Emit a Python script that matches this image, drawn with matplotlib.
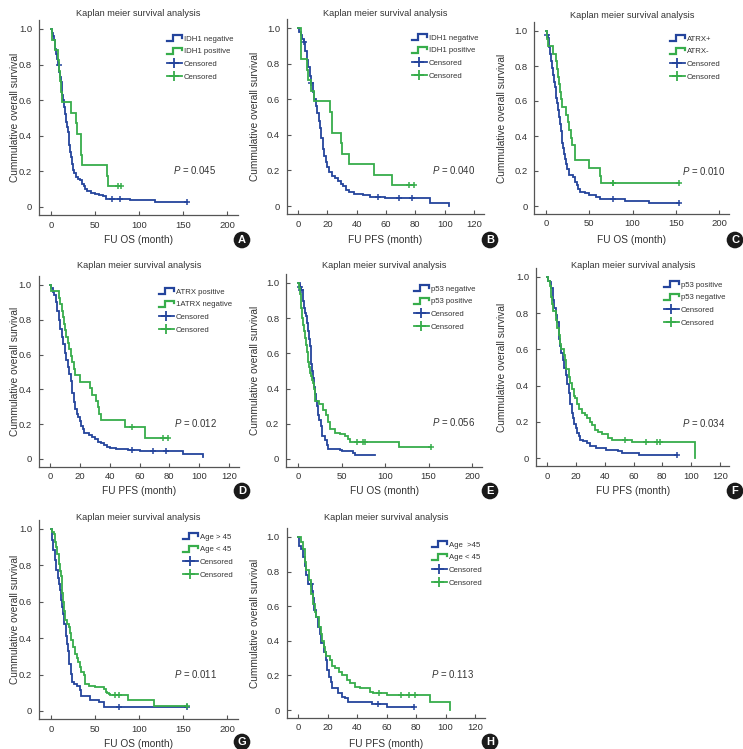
import numpy as np
import matplotlib
matplotlib.use("Agg")
import matplotlib.pyplot as plt
from matplotlib.lines import Line2D
from matplotlib.legend_handler import HandlerBase

FONT = ['Liberation Sans', 'DejaVu Sans']
plt.rcParams['font.family'] = FONT
plt.rcParams['mathtext.fontset'] = 'custom'
plt.rcParams['mathtext.rm'] = 'Liberation Sans'
plt.rcParams['mathtext.it'] = 'Liberation Sans:italic'

BLUE = '#24449c'
GREEN = '#37ad4b'

# ---------------- data ----------------
title = "Kaplan meier survival analysis"
ylabel = "Cummulative overall survival"
ytick_vals = [0, 0.2, 0.4, 0.6, 0.8, 1.0]
ytick_labels = ["0", "0.2", "0.4", "0.6", "0.8", "1.0"]
os_ticks = [0, 50, 100, 150, 200]
pfs_ticks = [0, 20, 40, 60, 80, 100, 120]
letters = ["A", "B", "C", "D", "E", "F", "G", "H"]
xlabels = ["FU OS (month)", "FU PFS (month)", "FU OS (month)", "FU PFS (month)",
           "FU OS (month)", "FU PFS (month)", "FU OS (month)", "FU PFS (month)"]
pvalues = ["0.045", "0.040", "0.010", "0.012", "0.056", "0.034", "0.011", "0.113"]
labels_blue = ["IDH1 negative", "IDH1 negative", "ATRX+", "ATRX positive",
               "p53 negative", "p53 positive", "Age > 45", "Age  >45"]
labels_green = ["IDH1 positive", "IDH1 positive", "ATRX-", "1ATRX negative",
                "p53 positive", "p53 negative", "Age < 45", "Age < 45"]
censor_label = "Censored"

# Panel A (OS, IDH1)
a_blue_t = [1, 2, 3, 4, 5, 6, 7, 8, 9, 10, 11, 12, 13, 14, 15, 16, 17, 18, 19, 20, 21, 22, 23, 24, 25, 26,
            28, 31, 33, 35, 37, 39, 41, 45, 50, 55, 59, 62, 90, 118]
a_blue_s = [0.98, 0.96, 0.94, 0.91, 0.89, 0.86, 0.83, 0.80, 0.76, 0.73, 0.70, 0.67, 0.63, 0.60, 0.56, 0.52,
            0.48, 0.45, 0.42, 0.39, 0.35, 0.31, 0.28, 0.24, 0.21, 0.19, 0.17, 0.16, 0.15, 0.13, 0.12, 0.10,
            0.09, 0.08, 0.075, 0.07, 0.06, 0.047, 0.039, 0.028]
a_blue_c = [8.7, 69, 78, 154]
a_green_t = [1, 5, 8, 9, 10, 11, 12, 23, 28.5, 29, 34, 34.5, 35, 64, 65]
a_green_s = [0.941, 0.882, 0.824, 0.765, 0.706, 0.647, 0.588, 0.529, 0.471, 0.412, 0.353, 0.294, 0.235,
             0.176, 0.118]
a_green_c = [76, 79]

# Panel B (PFS, IDH1)
b_blue_t = [1, 2, 3, 4, 5, 6, 7, 8, 9, 10, 11, 12, 13, 14, 15, 16, 17, 18, 19, 20, 21, 23, 25, 27, 29, 31,
            33, 35, 38, 44, 49, 59, 90, 103]
b_blue_s = [0.98, 0.96, 0.94, 0.92, 0.87, 0.82, 0.78, 0.73, 0.69, 0.64, 0.60, 0.56, 0.52, 0.48, 0.44, 0.38,
            0.32, 0.28, 0.25, 0.22, 0.19, 0.17, 0.155, 0.14, 0.125, 0.11, 0.09, 0.08, 0.068, 0.062, 0.052,
            0.043, 0.019, 0.0]
b_blue_c = [4, 9, 54.5, 69, 78]
b_green_t = [2, 6, 7, 9, 11, 22, 23, 23.5, 29, 30, 35, 52, 64]
b_green_s = [0.824, 0.765, 0.706, 0.647, 0.588, 0.529, 0.471, 0.412, 0.353, 0.294, 0.235, 0.176, 0.118]
b_green_c = [76, 79]

# Panel C (OS, ATRX)
c_blue_t = [1, 2, 3, 4, 5, 6, 7, 8, 9, 10, 11, 12, 13, 14, 15, 16, 17, 18, 19, 20, 21, 22, 23, 24, 27, 31,
            34, 36, 37, 39, 45, 50, 58, 62, 91, 119]
c_blue_s = [0.98, 0.96, 0.94, 0.91, 0.87, 0.83, 0.79, 0.75, 0.71, 0.68, 0.65, 0.62, 0.59, 0.55, 0.51, 0.47,
            0.43, 0.40, 0.36, 0.33, 0.30, 0.27, 0.24, 0.21, 0.18, 0.165, 0.14, 0.12, 0.10, 0.08, 0.072,
            0.063, 0.05, 0.04, 0.03, 0.015]
c_blue_c = [1.5, 77, 154]
c_green_t = [1, 2, 8, 12, 13, 14, 15, 16, 17, 19, 23, 26, 26.5, 29, 30, 33, 34, 50, 62, 64]
c_green_s = [0.957, 0.913, 0.87, 0.826, 0.783, 0.739, 0.696, 0.652, 0.609, 0.565, 0.522, 0.478, 0.435,
             0.391, 0.348, 0.304, 0.261, 0.217, 0.174, 0.13]
c_green_c = [77, 78, 154]

# Panel D (PFS, ATRX)
d_blue_t = [1, 2, 3, 4, 5, 6, 7, 8, 9, 10, 11, 12, 13, 14, 15, 16, 17, 18, 19, 20, 21, 22, 23, 26, 28, 30,
            32, 34, 36, 38, 40, 44, 52, 60, 89, 102.7]
d_blue_s = [0.98, 0.96, 0.94, 0.90, 0.85, 0.80, 0.75, 0.70, 0.66, 0.61, 0.57, 0.53, 0.49, 0.45, 0.38, 0.33,
            0.29, 0.26, 0.24, 0.22, 0.19, 0.17, 0.15, 0.14, 0.125, 0.115, 0.10, 0.09, 0.08, 0.07, 0.065,
            0.06, 0.052, 0.044, 0.03, 0.01]
d_blue_c = [55, 69, 78]
d_green_t = [1, 6, 7, 8, 9, 9.5, 10, 11, 12, 13, 14, 15, 16, 17, 20, 27, 28, 31, 32, 33, 34, 50, 64]
d_green_s = [0.963, 0.926, 0.889, 0.852, 0.815, 0.778, 0.741, 0.704, 0.667, 0.630, 0.593, 0.556, 0.519,
             0.481, 0.444, 0.407, 0.370, 0.333, 0.296, 0.259, 0.222, 0.185, 0.12]
d_green_c = [55, 76, 79]

# Panel E (OS, p53)
e_blue_t = [2, 4, 6, 7, 8, 9, 10, 11.5, 12.5, 13.5, 14.5, 15.5, 16.5, 17.5, 18.5, 19.5, 20.5, 21.5, 23, 24,
            26, 27.5, 28, 31, 33, 34.5, 48, 50, 62.7, 65, 89]
e_blue_s = [0.98, 0.96, 0.90, 0.86, 0.83, 0.81, 0.77, 0.73, 0.68, 0.64, 0.59, 0.54, 0.50, 0.46, 0.41, 0.37,
            0.33, 0.30, 0.25, 0.22, 0.19, 0.15, 0.128, 0.11, 0.08, 0.057, 0.053, 0.045, 0.034, 0.02, 0.02]
e_blue_c = [2.5, 4]
e_green_t = [1, 2, 3, 4, 5, 6, 7, 8, 9, 10, 11, 12, 13, 14, 15, 16, 17, 18, 19, 20, 24, 29, 32, 35, 37, 42,
             48, 54, 58, 60, 116.5]
e_green_s = [0.97, 0.94, 0.90, 0.86, 0.80, 0.76, 0.73, 0.69, 0.65, 0.61, 0.58, 0.55, 0.52, 0.49, 0.47,
             0.45, 0.43, 0.40, 0.37, 0.33, 0.31, 0.28, 0.25, 0.21, 0.17, 0.15, 0.14, 0.128, 0.115, 0.094,
             0.066]
e_green_c = [68, 75, 77, 153]

# Panel F (PFS, p53)
f_blue_t = [0.5, 2, 3, 4, 4.5, 5, 6, 7, 8, 8.5, 9, 10, 11, 12, 13, 14, 15, 16, 17, 18, 19, 20, 21, 22, 23,
            25, 28, 30, 34, 41, 49, 52, 64]
f_blue_s = [0.98, 0.97, 0.94, 0.91, 0.875, 0.83, 0.79, 0.75, 0.70, 0.66, 0.62, 0.58, 0.54, 0.50, 0.46,
            0.41, 0.36, 0.30, 0.25, 0.22, 0.19, 0.165, 0.14, 0.12, 0.10, 0.092, 0.083, 0.068, 0.055, 0.046,
            0.037, 0.028, 0.018]
f_blue_c = [90]
f_green_t = [1, 2, 3, 3.5, 4.5, 6, 7, 8, 9, 10, 11.5, 12.5, 13.5, 15, 16, 17, 18.5, 19.5, 20.5, 22, 24,
             26.5, 27.5, 30, 31, 33.5, 35.5, 38, 42.5, 45, 59, 102.8]
f_green_s = [0.98, 0.95, 0.89, 0.85, 0.81, 0.76, 0.72, 0.68, 0.63, 0.60, 0.57, 0.54, 0.49, 0.45, 0.415,
             0.38, 0.34, 0.33, 0.30, 0.27, 0.25, 0.24, 0.22, 0.20, 0.184, 0.157, 0.142, 0.13, 0.11, 0.10,
             0.087, 0.0]
f_green_c = [54, 69, 76, 78.5]

# Panel G (OS, age)
g_blue_t = [1, 2, 4, 6, 7.5, 9, 10, 11.5, 12.5, 13.5, 15, 16.5, 17.5, 18.5, 19.5, 20.5, 21, 22.5, 24, 26,
            30, 32.5, 34.5, 44, 55, 60]
g_blue_s = [0.94, 0.885, 0.83, 0.775, 0.73, 0.70, 0.665, 0.61, 0.57, 0.535, 0.48, 0.44, 0.41, 0.37, 0.33,
            0.29, 0.26, 0.205, 0.16, 0.147, 0.136, 0.114, 0.08, 0.059, 0.05, 0.022]
g_blue_c = [77, 154]
g_green_t = [1, 3, 5, 5.7, 6.8, 8.7, 10, 11, 12, 12.5, 13.5, 14.4, 16, 18, 20, 22, 23, 25, 27.5, 29.5,
             30.5, 32.5, 34.5, 37, 39, 43, 50, 60, 62, 64, 66, 67, 88, 117]
g_green_s = [0.985, 0.97, 0.93, 0.90, 0.86, 0.81, 0.77, 0.74, 0.70, 0.65, 0.60, 0.55, 0.50, 0.48, 0.46,
             0.43, 0.39, 0.35, 0.315, 0.29, 0.27, 0.24, 0.215, 0.196, 0.15, 0.14, 0.13, 0.12, 0.105,
             0.099, 0.095, 0.086, 0.059, 0.026]
g_green_c = [73, 77, 154]

# Panel H (PFS, age)
h_blue_t = [0.5, 1, 2, 3.5, 4.5, 5.5, 6.8, 9.5, 10, 11, 12.4, 13.5, 14.7, 15.8, 17.4, 18.8, 19.9, 21, 22.6,
            23.3, 27, 30, 31.7, 34, 50, 60]
h_blue_s = [0.98, 0.95, 0.93, 0.885, 0.83, 0.78, 0.73, 0.69, 0.65, 0.58, 0.54, 0.48, 0.44, 0.385, 0.335,
            0.29, 0.23, 0.19, 0.163, 0.125, 0.10, 0.077, 0.067, 0.048, 0.033, 0.015]
h_blue_c = [9, 54, 78.7]
h_green_t = [2, 3.4, 4.5, 5.6, 7.5, 8.6, 10, 11.3, 12.4, 14, 15.4, 16.3, 17.4, 18, 19, 22, 23, 25, 28, 30,
             33, 35, 38.5, 42, 48.5, 51, 60, 89.5, 103]
h_green_s = [0.97, 0.93, 0.855, 0.81, 0.75, 0.67, 0.615, 0.567, 0.54, 0.48, 0.44, 0.40, 0.365, 0.335, 0.31,
             0.29, 0.256, 0.24, 0.22, 0.20, 0.173, 0.158, 0.135, 0.125, 0.106, 0.096, 0.087, 0.044, 0.0]
h_green_c = [55, 70, 75, 79]

curves = [
    (a_blue_t, a_blue_s, a_blue_c, a_green_t, a_green_s, a_green_c),
    (b_blue_t, b_blue_s, b_blue_c, b_green_t, b_green_s, b_green_c),
    (c_blue_t, c_blue_s, c_blue_c, c_green_t, c_green_s, c_green_c),
    (d_blue_t, d_blue_s, d_blue_c, d_green_t, d_green_s, d_green_c),
    (e_blue_t, e_blue_s, e_blue_c, e_green_t, e_green_s, e_green_c),
    (f_blue_t, f_blue_s, f_blue_c, f_green_t, f_green_s, f_green_c),
    (g_blue_t, g_blue_s, g_blue_c, g_green_t, g_green_s, g_green_c),
    (h_blue_t, h_blue_s, h_blue_c, h_green_t, h_green_s, h_green_c),
]

# ---------------- layout (pixels) ----------------
W, H = 743, 749
# x0 pixel of x=0, pixels per unit, pixel of y=1, pixel of y=0
layout = [
    (51, 0.880, 29, 207), (298, 1.467, 28, 206), (546, 0.865, 31, 206),
    (50, 1.492, 285, 459), (298, 0.870, 283, 459), (547, 1.442, 277, 458),
    (51, 0.880, 529, 711), (298, 1.475, 537, 710),
]
legend_pos = [(167, 39), (412, 38), (670, 39), (159, 292), (414, 289), (664, 285), (183, 537), (432, 545)]
p_pos = [(173, 170), (432, 170), (682, 171), (174, 423), (432, 422), (682, 423), (174, 674), (431, 674)]
letter_pos = [(242, 240), (490, 240), (735, 240), (242, 491), (490, 491), (735, 491), (242, 742), (490, 742)]
xlabel_y = [240, 240, 240, 491, 491, 491, 744, 744]
ylabel_x = [15, 255, 502, 15, 255, 502, 15, 255]
title_y = [14, 14, 15, 266, 266, 266, 518, 518]

YLIM = (-0.045, 1.05)
OS_XLIM = (-13.5, 212)
PFS_XLIM = (-7.6, 126.5)


class StepHandler(HandlerBase):
    def create_artists(self, legend, orig_handle, xdescent, ydescent, width, height, fontsize, trans):
        x0, y0 = -xdescent, -ydescent
        xs = [x0, x0 + 0.4 * width, x0 + 0.4 * width, x0 + width, x0 + width]
        ys = [y0 + 0.1 * height, y0 + 0.1 * height, y0 + 0.9 * height, y0 + 0.9 * height, y0 + 0.55 * height]
        ln = Line2D(xs, ys, color=orig_handle.get_color(), lw=1.6, solid_joinstyle='miter', transform=trans)
        return [ln]


def km_line(t, s, c):
    tt = [0] + list(t)
    ss = [1.0] + list(s)
    if c and max(c) > tt[-1]:
        tt.append(max(c))
        ss.append(ss[-1])
    cy = [ss[np.searchsorted(tt, ci, side='right') - 1] for ci in c]
    return tt, ss, cy


fig = plt.figure(figsize=(W / 100, H / 100), dpi=100)

for i in range(8):
    x0, xs, y1, y0 = layout[i]
    is_os = "OS" in xlabels[i]
    xlim = OS_XLIM if is_os else PFS_XLIM
    ys = y0 - y1
    left = x0 + xlim[0] * xs
    right = x0 + xlim[1] * xs
    top = y1 - (YLIM[1] - 1.0) * ys
    bottom = y0 - YLIM[0] * ys
    ax = fig.add_axes([left / W, 1 - bottom / H, (right - left) / W, (bottom - top) / H])
    ax.set_xlim(*xlim)
    ax.set_ylim(*YLIM)
    for sp in ['top', 'right']:
        ax.spines[sp].set_visible(False)
    for sp in ['left', 'bottom']:
        ax.spines[sp].set_color('#555555')
        ax.spines[sp].set_linewidth(0.9)
    ax.set_xticks(os_ticks if is_os else pfs_ticks)
    ax.set_yticks(ytick_vals)
    ax.set_yticklabels(ytick_labels)
    ax.tick_params(direction='in', length=3, width=0.8, color='#555555', labelsize=6.8,
                   labelcolor='#333333')
    ax.tick_params(axis='y', pad=5)
    ax.tick_params(axis='x', pad=4)

    bt, bs, bc, gt, gs, gc = curves[i]
    for (t, s, c, col) in [(bt, bs, bc, BLUE), (gt, gs, gc, GREEN)]:
        tt, ss, cy = km_line(t, s, c)
        ax.step(tt, ss, where='post', color=col, lw=1.3, solid_joinstyle='miter')
        ax.plot(c, cy, linestyle='None', marker='+', markersize=5, mew=1.1, color=col)

    # labels
    ax.set_xlabel(xlabels[i], fontsize=7.3, color='#333333')
    ax.xaxis.set_label_coords(0.5, (bottom - xlabel_y[i]) / (bottom - top))
    ax.xaxis.label.set_va('center')
    ax.set_ylabel(ylabel, fontsize=7.3, color='#333333')
    ax.yaxis.set_label_coords((ylabel_x[i] - left) / (right - left), 0.5)
    ax.yaxis.label.set_va('center')
    ax.set_title(title, fontsize=6.6, color='#333333', va='center', pad=0,
                 y=(bottom - title_y[i]) / (bottom - top))

    # legend
    hb = Line2D([], [], color=BLUE)
    hg = Line2D([], [], color=GREEN)
    hcb = Line2D([], [], color=BLUE, marker='+', markersize=7, mew=1.3, lw=1.3)
    hcg = Line2D([], [], color=GREEN, marker='+', markersize=7, mew=1.3, lw=1.3)
    lx, ly = legend_pos[i]
    leg = ax.legend([hb, hg, hcb, hcg], [labels_blue[i], labels_green[i], censor_label, censor_label],
                    handler_map={hb: StepHandler(), hg: StepHandler()},
                    loc='upper left', bbox_to_anchor=(lx / W, 1 - (ly - 4.5) / H),
                    bbox_transform=fig.transFigure, frameon=False, fontsize=5.6,
                    borderpad=0, borderaxespad=0, handlelength=1.9, handleheight=1.0,
                    handletextpad=0.3, labelspacing=0.6)
    for txt in leg.get_texts():
        txt.set_color('#333333')

    # p-value
    px, py = p_pos[i]
    fig.text(px / W, 1 - py / H, "$P$ = " + pvalues[i], fontsize=6.9, color='#333333',
             ha='left', va='center')

    # panel letter
    lx, ly = letter_pos[i]
    fig.text(lx / W, 1 - ly / H, letters[i], fontsize=8, fontweight='bold', color='white',
             ha='center', va='center',
             bbox=dict(boxstyle='circle,pad=0.3', fc='#1a1a1a', ec='none'))

fig.savefig("out.png", dpi=100)
